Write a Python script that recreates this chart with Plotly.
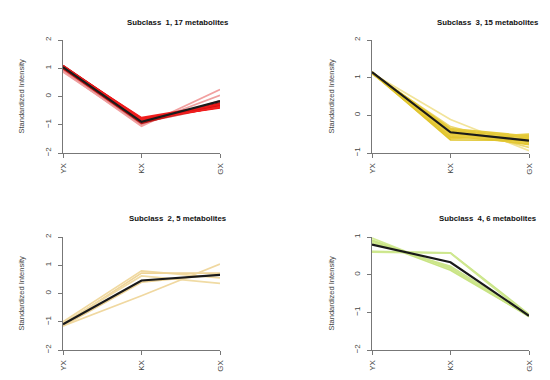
import plotly.graph_objects as go

times = ["YX", "KX", "GX"]

# Subclass 1 (17 metabolites)
s1_lines = [
    [0.90, -1.05, 0.25], [0.87, -1.00, 0.04], [0.95, -0.98, -0.15],
    [0.98, -0.92, -0.35], [1.00, -0.95, -0.22], [1.02, -0.88, -0.25],
    [1.10, -0.80, -0.30], [1.08, -0.78, -0.35], [1.06, -0.82, -0.38],
    [1.05, -0.75, -0.28], [1.03, -0.85, -0.32], [1.07, -0.80, -0.40],
    [1.09, -0.83, -0.33], [1.04, -0.79, -0.36], [1.01, -0.90, -0.30],
    [1.06, -0.86, -0.27], [1.08, -0.84, -0.38],
]
s1_colors = ["#f2a0a0", "#eea0a0", "#e88888", "#d84040", "#b81818", "#a01010",
             "#e82020", "#f01818", "#c81010", "#f02020", "#e01818", "#f01010",
             "#b81414", "#f01c1c", "#d81010", "#e81818", "#f02020"]
s1_mean = [1.04, -0.90, -0.16]

# Subclass 3 (15 metabolites)
s3_lines = [
    [1.12, -0.11, -0.94], [1.10, -0.30, -0.85], [1.13, -0.35, -0.55],
    [1.14, -0.40, -0.60], [1.12, -0.45, -0.65], [1.15, -0.50, -0.70],
    [1.13, -0.55, -0.75], [1.14, -0.60, -0.55], [1.12, -0.62, -0.50],
    [1.15, -0.48, -0.78], [1.13, -0.42, -0.68], [1.14, -0.58, -0.62],
    [1.12, -0.52, -0.72], [1.13, -0.38, -0.58], [1.14, -0.65, -0.66],
]
s3_colors = ["#f2e49a", "#ecd870", "#e6cc40", "#e4c838", "#e8cc3c", "#e2c632",
             "#e6ca3a", "#e0c430", "#e8ce42", "#e4c836", "#e6cb3c", "#e2c634",
             "#e8cd40", "#e4c938", "#e0c52e"]
s3_mean = [1.15, -0.45, -0.67]

# Subclass 2 (5 metabolites)
s2_lines = [
    [-1.00, 0.80, 0.55], [-1.10, 0.72, 0.72], [-1.05, 0.62, 0.36],
    [-1.15, 0.40, 0.68], [-1.15, -0.08, 1.04],
]
s2_colors = ["#f0d9a0", "#eed498", "#f0dba4", "#ecd296", "#f0d8a0"]
s2_mean = [-1.09, 0.46, 0.66]

# Subclass 4 (6 metabolites)
s4_lines = [
    [0.97, 0.15, -1.08], [0.92, 0.18, -1.12], [0.62, 0.58, -1.05],
    [0.60, 0.57, -1.10], [0.90, 0.12, -1.10], [0.85, 0.22, -1.07],
]
s4_colors = ["#d2ea96", "#cbe58a", "#c8e486", "#cfe890", "#c9e484", "#cde68c"]
s4_mean = [0.80, 0.33, -1.09]

titles = ["Subclass  1, 17 metabolites", "Subclass  3, 15 metabolites",
          "Subclass  2, 5 metabolites", "Subclass  4, 6 metabolites"]
panels = [(s1_lines, s1_colors, s1_mean, [-2, 2]),
          (s3_lines, s3_colors, s3_mean, [-1, 2]),
          (s2_lines, s2_colors, s2_mean, [-2, 2]),
          (s4_lines, s4_colors, s4_mean, [-2, 1])]

W, H = 550, 380
# pixel boxes for plot areas: (x0, x1, ytop, ybottom)
boxes = [(55, 212, 32, 145), (364, 521, 32, 145),
         (55, 212, 229, 342), (364, 521, 229, 342)]
title_pos = [(170, 14), (480, 14), (170, 210), (480, 210)]
ylab_x = [13, 323, 13, 323]

fig = go.Figure()
axis_color = "#777777"
font = "Liberation Sans, Arial, sans-serif"

for i, (lines, colors, mean, yr) in enumerate(panels):
    n = "" if i == 0 else str(i + 1)
    xa, ya = "x" + n, "y" + n
    for vals, c in zip(lines, colors):
        fig.add_trace(go.Scatter(x=times, y=vals, mode="lines", xaxis=xa, yaxis=ya,
                                 line=dict(color=c, width=1.7), showlegend=False,
                                 hoverinfo="skip"))
    fig.add_trace(go.Scatter(x=times, y=mean, mode="lines", xaxis=xa, yaxis=ya,
                             line=dict(color="#1a1a1a", width=2.2), showlegend=False))
    x0, x1, yt, yb = boxes[i]
    fig.layout["xaxis" + n] = dict(
        domain=[x0 / W, x1 / W], anchor=ya, range=[0, 2], type="category",
        categoryorder="array", categoryarray=times, automargin=False,
        showline=True, linecolor=axis_color, linewidth=1, ticks="outside",
        ticklen=4, tickcolor=axis_color, tickangle=-90, showgrid=False,
        zeroline=False, tickfont=dict(size=8, color="#444444", family=font),
        ticklabelstandoff=2, fixedrange=True)
    fig.layout["yaxis" + n] = dict(
        domain=[1 - yb / H, 1 - yt / H], anchor=xa, range=yr, automargin=False,
        tickvals=list(range(yr[0], yr[1] + 1)),
        ticktext=[("\u2212" + str(-v)) if v < 0 else str(v) for v in range(yr[0], yr[1] + 1)],
        showline=True, linecolor=axis_color, linewidth=1, ticks="outside",
        ticklen=4, tickcolor=axis_color, tickangle=-90, showgrid=False,
        zeroline=False, tickfont=dict(size=8, color="#444444", family=font),
        ticklabelstandoff=4, fixedrange=True)
    tx, ty = title_pos[i]
    fig.add_annotation(x=tx / W, y=1 - ty / H, xref="paper", yref="paper",
                       xanchor="center", yanchor="middle",
                       text="<b>" + titles[i] + "</b>", showarrow=False,
                       font=dict(size=7.8, color="#111111", family=font))
    fig.add_annotation(x=ylab_x[i] / W, y=1 - ((yt + yb) / 2) / H, xref="paper", yref="paper",
                       xanchor="center", yanchor="middle",
                       text="Standardized Intensity", textangle=-90, showarrow=False,
                       font=dict(size=7.5, color="#444444", family=font))

fig.update_layout(width=W, height=H, margin=dict(l=0, r=0, t=0, b=0, autoexpand=False),
                  plot_bgcolor="white", paper_bgcolor="white",
                  font=dict(family=font))
fig.write_html("out.html")
